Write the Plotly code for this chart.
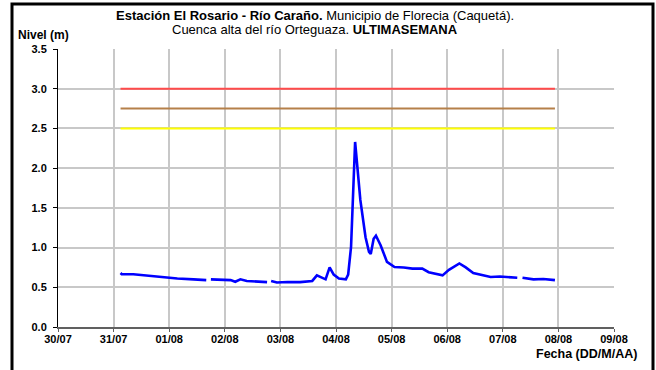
import plotly.graph_objects as go

# ---- data ----
fechas = [
    "2013-07-31 03:00", "2013-07-31 03:30", "2013-07-31 08:30", "2013-07-31 13:00",
    "2013-07-31 14:30", "2013-07-31 23:00", "2013-08-01 03:30", "2013-08-01 10:30",
    "2013-08-01 16:00", "2013-08-01 17:00", "2013-08-01 18:00", "2013-08-02 02:30",
    "2013-08-02 04:30", "2013-08-02 06:45", "2013-08-02 09:30", "2013-08-02 18:15",
    "2013-08-02 19:00", "2013-08-02 20:00", "2013-08-02 22:30", "2013-08-03 03:00",
    "2013-08-03 08:30", "2013-08-03 13:45", "2013-08-03 15:45", "2013-08-03 19:30",
    "2013-08-03 21:15", "2013-08-03 23:00", "2013-08-04 01:15", "2013-08-04 04:15",
    "2013-08-04 05:15", "2013-08-04 06:30", "2013-08-04 08:15", "2013-08-04 10:30",
    "2013-08-04 12:45", "2013-08-04 14:15", "2013-08-04 15:00", "2013-08-04 16:15",
    "2013-08-04 17:15", "2013-08-04 19:15", "2013-08-04 22:00", "2013-08-05 01:15",
    "2013-08-05 05:15", "2013-08-05 09:00", "2013-08-05 13:15", "2013-08-05 16:00",
    "2013-08-05 21:00", "2013-08-05 22:00", "2013-08-06 00:45", "2013-08-06 05:15",
    "2013-08-06 08:00", "2013-08-06 11:15", "2013-08-06 18:45", "2013-08-06 22:45",
    "2013-08-07 06:15", "2013-08-07 07:00", "2013-08-07 08:30", "2013-08-07 13:15",
    "2013-08-07 17:30", "2013-08-07 22:30",
]
nivel = [
    0.68, 0.665, 0.665, 0.65,
    0.645, 0.62, 0.61, 0.60,
    0.59, None, 0.60, 0.59,
    0.57, 0.60, 0.58, 0.565,
    None, 0.58, 0.56, 0.567,
    0.565, 0.58, 0.65, 0.60,
    0.75, 0.66, 0.61, 0.60,
    0.66, 1.01, 2.33, 1.60,
    1.13, 0.945, 0.92, 1.11,
    1.15, 1.03, 0.82, 0.755,
    0.75, 0.735, 0.735, 0.69,
    0.66, 0.65, 0.72, 0.80,
    0.75, 0.68, 0.63, 0.635,
    0.62, None, 0.62, 0.60,
    0.605, 0.59,
]
umbral_fechas = ["2013-07-31 03:00", "2013-08-07 22:30"]
umbral_rojo = [3.0, 3.0]
umbral_naranja = [2.75, 2.75]
umbral_amarillo = [2.5, 2.5]

x_rango = ["2013-07-30", "2013-08-09"]
y_ticks = [0.0, 0.5, 1.0, 1.5, 2.0, 2.5, 3.0, 3.5]

FONT = "Liberation Sans, Arial, sans-serif"

fig = go.Figure()
fig.add_trace(go.Scatter(x=umbral_fechas, y=umbral_rojo, mode="lines",
                         line=dict(color="#ff4a4a", width=2), hoverinfo="skip"))
fig.add_trace(go.Scatter(x=umbral_fechas, y=umbral_naranja, mode="lines",
                         line=dict(color="#b5804a", width=2), hoverinfo="skip"))
fig.add_trace(go.Scatter(x=umbral_fechas, y=umbral_amarillo, mode="lines",
                         line=dict(color="#ffff00", width=2), hoverinfo="skip"))
fig.add_trace(go.Scatter(x=fechas, y=nivel, mode="lines", connectgaps=False,
                         line=dict(color="#0000ff", width=2.6)))

L, R, T, B = 58, 42, 49, 43
W, H = 656, 370
pw, ph = W - L - R, H - T - B

def px(xpix):
    return (xpix - L) / pw

def py(ypix):
    return (H - B - ypix) / ph

fig.update_layout(
    width=W, height=H,
    margin=dict(l=L, r=R, t=T, b=B),
    paper_bgcolor="white", plot_bgcolor="white",
    showlegend=False,
    font=dict(family=FONT, color="black"),
    xaxis=dict(
        type="date", range=x_rango, tickformat="%d/%m",
        tick0="2013-07-30", dtick=86400000,
        showgrid=True, gridcolor="#c8c8c8", gridwidth=1.5,
        showline=True, linecolor="#606060", linewidth=2,
        ticks="outside", ticklen=3, tickcolor="#606060",
        ticklabelstandoff=-2,
        tickfont=dict(family=FONT, size=11, color="black", weight="bold"),
        zeroline=False, fixedrange=True,
    ),
    yaxis=dict(
        range=[0, 3.5], tickvals=y_ticks, tickformat=".1f",
        showgrid=True, gridcolor="#c8c8c8", gridwidth=1.5,
        showline=True, linecolor="black", linewidth=1,
        ticks="outside", ticklen=4, tickcolor="black",
        ticklabelstandoff=4,
        tickfont=dict(family=FONT, size=11, color="black", weight="bold"),
        zeroline=False, fixedrange=True,
    ),
    annotations=[
        dict(text="<b>Estación El Rosario - Río Caraño.</b> Municipio de Florecia (Caquetá).",
             xref="paper", yref="paper", x=px(315), y=py(15), xanchor="center", yanchor="middle",
             showarrow=False, font=dict(family=FONT, size=13, color="black")),
        dict(text="Cuenca alta del río Orteguaza. <b>ULTIMASEMANA</b>",
             xref="paper", yref="paper", x=px(315), y=py(29), xanchor="center", yanchor="middle",
             showarrow=False, font=dict(family=FONT, size=13, color="black")),
        dict(text="<b>Nivel (m)</b>",
             xref="paper", yref="paper", x=px(16), y=py(35), xanchor="left", yanchor="middle",
             showarrow=False, font=dict(family=FONT, size=12, color="black")),
        dict(text="<b>Fecha (DD/M/AA)</b>",
             xref="paper", yref="paper", x=px(639), y=py(354), xanchor="right", yanchor="middle",
             showarrow=False, font=dict(family=FONT, size=12.5, color="black")),
    ],
    shapes=[
        dict(type="rect", xref="paper", yref="paper",
             x0=px(12), x1=px(653), y0=py(380), y1=py(4),
             line=dict(color="black", width=3), fillcolor="rgba(0,0,0,0)", layer="above"),
    ],
)

fig.write_html("out.html", config={"displayModeBar": False},
               post_script="document.body.style.margin='0px';document.body.style.overflow='hidden';")
